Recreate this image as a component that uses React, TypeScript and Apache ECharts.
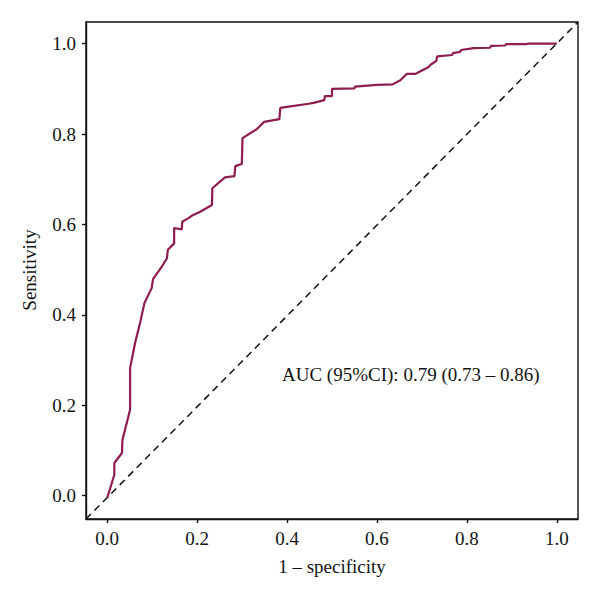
import React, { useEffect, useRef } from "react";
import * as echarts from "echarts";

// ROC curve: 1 - specificity (x) and sensitivity (y)
const fpr = [
  0.0, 0.016, 0.016, 0.033, 0.034, 0.051, 0.051, 0.062, 0.073, 0.083, 0.099, 0.102,
  0.122, 0.133, 0.135, 0.149, 0.149, 0.166, 0.167, 0.181, 0.188, 0.207, 0.233, 0.234,
  0.262, 0.283, 0.285, 0.2995, 0.301, 0.333, 0.349, 0.383, 0.385, 0.448, 0.459, 0.483,
  0.484, 0.5, 0.5, 0.55, 0.551, 0.6, 0.635, 0.652, 0.666, 0.685, 0.714, 0.72, 0.732,
  0.734, 0.767, 0.769, 0.785, 0.787, 0.815, 0.852, 0.853, 0.885, 0.887, 0.933, 0.935, 1.0,
];
const tpr = [
  -0.006, 0.046, 0.072, 0.094, 0.123, 0.19, 0.282, 0.337, 0.381, 0.426, 0.459, 0.479,
  0.507, 0.525, 0.544, 0.558, 0.592, 0.589, 0.606, 0.614, 0.619, 0.628, 0.643, 0.68,
  0.704, 0.707, 0.729, 0.734, 0.791, 0.811, 0.827, 0.833, 0.858, 0.867, 0.869, 0.875,
  0.884, 0.884, 0.9, 0.901, 0.905, 0.909, 0.91, 0.919, 0.933, 0.933, 0.948, 0.954, 0.962,
  0.972, 0.975, 0.979, 0.982, 0.986, 0.99, 0.991, 0.995, 0.996, 0.999, 0.999, 1.0, 1.0,
];
const tickValues = [0, 0.2, 0.4, 0.6, 0.8, 1.0];
const xRange = [-0.047, 1.047];
const yRange = [-0.052, 1.048];
const aucText = "AUC (95%CI): 0.79 (0.73 – 0.86)";
const xName = "1 – specificity";
const yName = "Sensitivity";

const FONT = "'Liberation Serif', 'DejaVu Serif', serif";

export default function App() {
  const ref = useRef<HTMLDivElement>(null);

  useEffect(() => {
    if (!ref.current) return;
    const chart = echarts.init(ref.current, null, { renderer: "svg" });
    const rocData = fpr.map((x, i) => [x, tpr[i]]);
    const diagData = [
      [xRange[0], yRange[0]],
      [xRange[1], yRange[1]],
    ];
    const axisCommon = {
      type: "value" as const,
      splitLine: { show: false },
      axisLine: { show: true, onZero: false, lineStyle: { color: "#111", width: 1.4 } },
      axisTick: {
        show: true,
        length: 4,
        lineStyle: { color: "#111", width: 1.4 },
        customValues: tickValues,
      },
      axisLabel: {
        color: "#141414",
        fontFamily: FONT,
        fontSize: 19,
        margin: 10,
        customValues: tickValues,
        formatter: (v: number) => v.toFixed(1),
      },
    };
    chart.setOption({
      animation: false,
      backgroundColor: "#fff",
      grid: {
        left: 86,
        top: 22,
        width: 492,
        height: 497,
        show: true,
        borderColor: "#111",
        borderWidth: 1.4,
        backgroundColor: "transparent",
      },
      xAxis: { ...axisCommon, min: xRange[0], max: xRange[1] },
      yAxis: { ...axisCommon, min: yRange[0], max: yRange[1] },
      series: [
        {
          type: "line",
          data: diagData,
          symbol: "none",
          silent: true,
          lineStyle: { color: "#111", width: 1.5, type: [7, 5] },
          z: 1,
        },
        {
          type: "line",
          data: rocData,
          symbol: "none",
          silent: true,
          lineStyle: { color: "#8d1d4f", width: 2.2 },
          z: 2,
        },
      ],
      graphic: [
        {
          type: "text",
          left: 282,
          top: 365,
          style: {
            text: aucText,
            fontFamily: FONT,
            fontSize: 19,
            fill: "#141414",
          },
        },
        {
          type: "text",
          x: 332,
          y: 566,
          style: {
            text: xName,
            fontFamily: FONT,
            fontSize: 19,
            fill: "#141414",
            align: "center",
            verticalAlign: "middle",
          },
        },
        {
          type: "text",
          x: 29,
          y: 270,
          rotation: Math.PI / 2,
          style: {
            text: yName,
            fontFamily: FONT,
            fontSize: 19,
            fill: "#141414",
            align: "center",
            verticalAlign: "middle",
          },
        },
      ],
    });
    return () => chart.dispose();
  }, []);

  return (
    <div
      ref={ref}
      style={{ position: "fixed", left: 0, top: 0, width: 600, height: 597, background: "#fff" }}
    />
  );
}
